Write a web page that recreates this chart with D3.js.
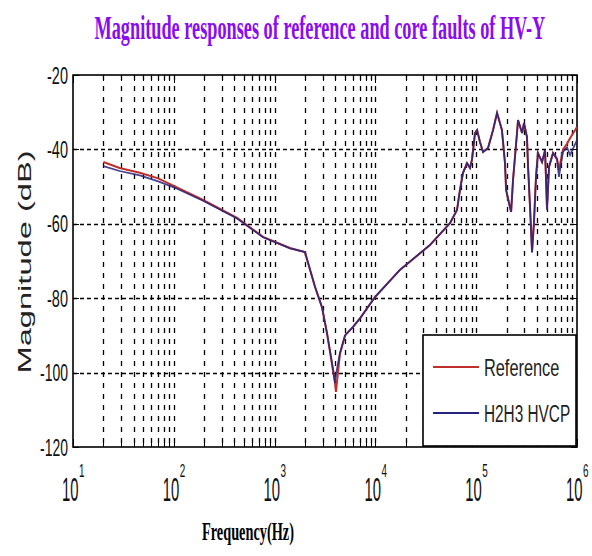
<!DOCTYPE html>
<html>
<head>
<meta charset="utf-8">
<script src="https://cdn.jsdelivr.net/npm/d3@7"></script>
<style>
  body { margin: 0; background: #fff; }
  svg { display: block; }
</style>
</head>
<body>
<svg width="592" height="556"></svg>
<script>
// data
const freq = [20, 29, 46, 70, 100, 195, 424, 767, 1420, 2000, 2520, 2950, 3310, 3800, 3970, 4060, 4450,
  5000, 6000, 7000, 9900, 17500, 34800, 55000, 64500, 69000, 74000, 81100, 86700, 90800, 97300,
  102000, 109000, 117000, 131000, 147000, 161000, 180000, 193000, 198000, 216000, 222000, 232000,
  254000, 260000, 285000, 298000, 319000, 327000, 342000, 358000, 374000, 392000, 410000, 450000,
  482000, 504000, 528000, 578000, 634000, 662000, 726000, 796000, 853000, 1000000];

const reference = [-43.4, -45, -46.3, -47.8, -49.8, -53.6, -58.4, -63.5, -66.5, -67.6, -77, -82.4, -89.4,
  -99.5, -102.5, -105.2, -95, -90, -87.7, -85.5, -79.7, -72.4, -65.7, -59.8, -56.3, -50.9, -46.3,
  -43.7, -45, -42.8, -35.6, -34.8, -38, -40.7, -39.6, -34.8, -30.2, -34.8, -43.7, -50.9, -55.5,
  -56.8, -48.2, -35.6, -32.1, -35.6, -32.9, -36.7, -44.7, -55.5, -67.5, -59.8, -47.4, -41, -43.4,
  -40.2, -56, -44.7, -41, -42.5, -45.5, -40, -38.5, -37, -34];

const h2h3 = [-44.5, -45.8, -47, -48.6, -50.2, -53.8, -58.6, -63.6, -66.6, -67.6, -77, -82.4, -89.4,
  -99, -102.8, -100.5, -94.7, -90, -87.7, -85.5, -79.7, -72.4, -65.7, -59.8, -56.3, -50.9, -46.3,
  -43.7, -45, -42.8, -35.6, -34.8, -38, -40.7, -39.6, -34.8, -30.2, -34.8, -43.7, -50.9, -55.5,
  -56.8, -48.2, -35.6, -32.1, -35.6, -32.9, -36.7, -44.7, -55.5, -67.8, -59.8, -47.4, -41, -43.4,
  -40.2, -56.3, -44.7, -41, -42.8, -47.4, -40.7, -39.4, -41.5, -37.5];

const yTicks = [-20, -40, -60, -80, -100, -120];
const decades = [1, 2, 3, 4, 5, 6];
const legendNames = ["Reference", "H2H3 HVCP"];

const RED = "#c0302a";
const BLUE = "#26237e";

let svg = d3.select("svg");

const plotL = 73, plotR = 577, plotT = 75, plotB = 447;

const x = d3.scaleLog().domain([10, 1e6]).range([plotL, plotR]);
const y = d3.scaleLinear().domain([-120, -20]).range([plotB, plotT]);

// squeeze a text horizontally so it spans `w` pixels, anchored at (tx, ty)
function squeeze(sel, tx, ty, w, anchor) {
  const len = sel.node().getComputedTextLength();
  const k = w / len;
  const dx = anchor === "middle" ? -w / 2 : anchor === "end" ? -w : 0;
  sel.attr("transform", `translate(${tx + dx},${ty}) scale(${k},1)`);
}

// title
const title = svg.append("text")
  .attr("font-family", "Liberation Serif")
  .attr("font-weight", "bold")
  .attr("font-size", 33)
  .attr("fill", "#8a0cf0")
  .text("Magnitude responses of reference and core faults of HV-Y");
squeeze(title, 320, 39, 451, "middle");

// minor + major frequency values
let minors = [];
for (let d = 1; d < 6; d++) {
  for (let m = 1; m < 10; m++) minors.push(m * Math.pow(10, d));
}
minors.push(1e6);

// vertical dashed grid (skip the borders)
svg.append("g")
  .selectAll("line")
  .data(minors.filter((f) => f > 10 && f < 1e6))
  .enter()
  .append("line")
  .attr("x1", (f) => Math.round(x(f)) + 0.5)
  .attr("x2", (f) => Math.round(x(f)) + 0.5)
  .attr("y1", plotT)
  .attr("y2", plotB)
  .attr("stroke", "#000")
  .attr("stroke-width", 1.3)
  .attr("stroke-dasharray", "5,6");

// horizontal dashed grid
svg.append("g")
  .selectAll("line")
  .data(yTicks.filter((v) => v > -120 && v < -20))
  .enter()
  .append("line")
  .attr("x1", plotL)
  .attr("x2", plotR)
  .attr("y1", (v) => Math.round(y(v)) + 0.5)
  .attr("y2", (v) => Math.round(y(v)) + 0.5)
  .attr("stroke", "#000")
  .attr("stroke-width", 1.4)
  .attr("stroke-dasharray", "4,3");

// tick marks, inward on all four sides
const tickG = svg.append("g").attr("stroke", "#000").attr("stroke-width", 1);
minors.forEach((f) => {
  const len = Number.isInteger(Math.log10(f)) ? 8 : 6;
  const xp = Math.round(x(f)) + 0.5;
  tickG.append("line").attr("x1", xp).attr("x2", xp).attr("y1", plotB).attr("y2", plotB - len);
  tickG.append("line").attr("x1", xp).attr("x2", xp).attr("y1", plotT).attr("y2", plotT + len);
});
yTicks.forEach((v) => {
  const yp = Math.round(y(v)) + 0.5;
  tickG.append("line").attr("x1", plotL).attr("x2", plotL + 6).attr("y1", yp).attr("y2", yp);
  tickG.append("line").attr("x1", plotR).attr("x2", plotR - 6).attr("y1", yp).attr("y2", yp);
});

// frame
svg.append("rect")
  .attr("x", plotL)
  .attr("y", plotT)
  .attr("width", plotR - plotL)
  .attr("height", plotB - plotT)
  .attr("fill", "none")
  .attr("stroke", "#000")
  .attr("stroke-width", 1.6);

// y tick labels (narrow)
svg.append("g")
  .selectAll("text")
  .data(yTicks)
  .enter()
  .append("text")
  .attr("font-family", "Liberation Sans")
  .attr("font-size", 23)
  .attr("fill", "#111")
  .text((v) => v)
  .each(function (v) {
    squeeze(d3.select(this), 68, y(v) + 8.5, v <= -100 ? 28 : 21, "end");
  });

// x tick labels: 10 with exponent, squeezed horizontally
const xLab = svg.append("g")
  .selectAll("g")
  .data(decades)
  .enter()
  .append("g")
  .attr("transform", (d) => `translate(${x(Math.pow(10, d))},0)`);

xLab.append("text")
  .attr("transform", "translate(-11,501) scale(0.45,1)")
  .attr("font-family", "Liberation Sans")
  .attr("font-size", 33)
  .attr("fill", "#111")
  .text("10");

xLab.append("text")
  .attr("transform", "translate(6,477) scale(0.55,1)")
  .attr("font-family", "Liberation Sans")
  .attr("font-size", 18)
  .attr("fill", "#111")
  .text((d) => d);

// axis titles
const xTitle = svg.append("text")
  .attr("font-family", "Liberation Serif")
  .attr("font-weight", "bold")
  .attr("font-size", 26)
  .attr("fill", "#000")
  .text("Frequency(Hz)");
squeeze(xTitle, 202, 540, 92, "start");

svg.append("text")
  .attr("transform", "translate(31,262) rotate(-90)")
  .attr("text-anchor", "middle")
  .attr("font-family", "Liberation Sans")
  .attr("font-size", 19)
  .attr("fill", "#222")
  .attr("textLength", 223)
  .attr("lengthAdjust", "spacingAndGlyphs")
  .text("Magnitude (dB)");

// curves
const line = d3.line()
  .x((d) => x(d[0]))
  .y((d) => y(d[1]));

svg.append("path")
  .datum(freq.map((f, i) => [f, reference[i]]))
  .attr("d", line)
  .attr("fill", "none")
  .attr("stroke", RED)
  .attr("stroke-width", 2);

svg.append("path")
  .datum(freq.map((f, i) => [f, h2h3[i]]))
  .attr("d", line)
  .attr("fill", "none")
  .attr("stroke", BLUE)
  .attr("stroke-width", 1.7)
  .attr("opacity", 0.85);

// legend
const lg = svg.append("g");
lg.append("rect")
  .attr("x", 423)
  .attr("y", 335)
  .attr("width", 153)
  .attr("height", 111)
  .attr("fill", "#fff")
  .attr("stroke", "#000")
  .attr("stroke-width", 1.6);

legendNames.forEach((name, i) => {
  const yy = 367 + i * 46;
  lg.append("line")
    .attr("x1", 433)
    .attr("x2", 479)
    .attr("y1", yy)
    .attr("y2", yy)
    .attr("stroke", i === 0 ? RED : BLUE)
    .attr("stroke-width", 1.8);
  lg.append("text")
    .attr("transform", `translate(484,${yy + 9}) scale(${i === 0 ? 0.68 : 0.64},1)`)
    .attr("font-family", "Liberation Sans")
    .attr("font-size", 24)
    .attr("fill", "#222")
    .text(name);
});
</script>
</body>
</html>
